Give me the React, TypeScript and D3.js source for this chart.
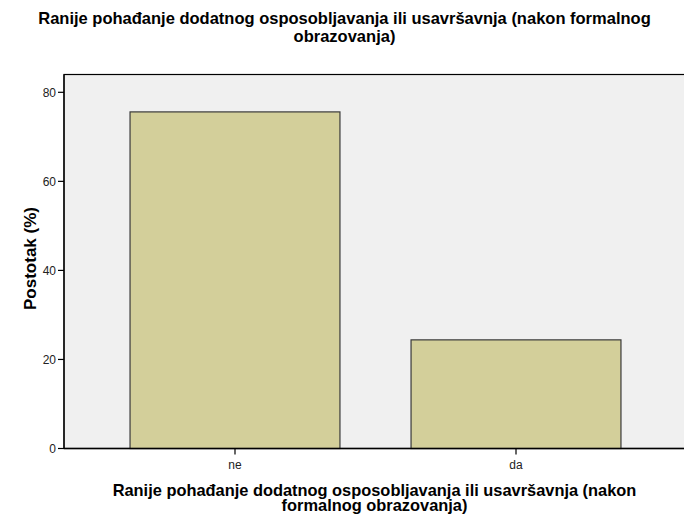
import * as d3 from "d3";

// answers and the share of respondents (%)
const categories = ["ne", "da"];
const percents = [75.6, 24.4];
const yTicks = [0, 20, 40, 60, 80];

const title = [
  "Ranije pohađanje dodatnog osposobljavanja ili usavršavnja (nakon formalnog",
  "obrazovanja)",
];
const xTitle = [
  "Ranije pohađanje dodatnog osposobljavanja ili usavršavnja (nakon",
  "formalnog obrazovanja)",
];
const yTitle = "Postotak (%)";

export default function App() {
  const width = 684, height = 515;
  const left = 64, right = 687, top = 74.5, bottom = 448.5;
  const font = "'Liberation Sans', Arial, sans-serif";

  const x = d3.scaleBand<string>()
    .domain(categories)
    .range([left, right])
    .paddingInner(0.253)
    .paddingOuter(0.235);

  const y = d3.scaleLinear().domain([0, 84]).range([bottom, top]);

  return (
    <svg width={width} height={height}
      style={{position: "absolute", left: 0, top: 0, background: "#fff"}}
      fontFamily={font}>
      {/* plot background */}
      <rect x={left} y={top} width={right - left} height={bottom - top}
        fill="#f0f0f0" stroke="#000" strokeWidth={1.2} />

      {/* bars */}
      {categories.map((c, i) => (
        <rect key={c} x={x(c)} y={y(percents[i])} width={x.bandwidth()}
          height={y(0) - y(percents[i])} fill="#d3cf9a" stroke="#3a3a3a" strokeWidth={1.2} />
      ))}

      {/* axes lines */}
      <line x1={left} x2={width} y1={bottom} y2={bottom} stroke="#000" strokeWidth={1.5} />
      <line x1={left} x2={left} y1={top} y2={bottom} stroke="#000" strokeWidth={1.2} />

      {/* y ticks */}
      {yTicks.map(t => (
        <g key={t}>
          <line x1={left - 6} x2={left} y1={y(t)} y2={y(t)} stroke="#000" strokeWidth={1.2} />
          <text x={left - 8} y={y(t)} dy="0.36em" textAnchor="end" fontSize={12} fill="#222">{t}</text>
        </g>
      ))}

      {/* x ticks */}
      {categories.map(c => {
        const cx = (x(c) as number) + x.bandwidth() / 2;
        return (
          <g key={c}>
            <line x1={cx} x2={cx} y1={bottom} y2={bottom + 6} stroke="#000" strokeWidth={1.2} />
            <text x={cx} y={bottom + 20} textAnchor="middle" fontSize={12} fill="#222">{c}</text>
          </g>
        );
      })}

      {/* titles */}
      <text textAnchor="middle" fontSize={16.5} fontWeight="bold">
        {title.map((t, i) => (
          <tspan key={t} x={344.5} y={24 + i * 18}>{t}</tspan>
        ))}
      </text>
      <text textAnchor="middle" fontSize={16.4} fontWeight="bold">
        {xTitle.map((t, i) => (
          <tspan key={t} x={374.5} y={495.5 + i * 15.5}>{t}</tspan>
        ))}
      </text>
      <text transform={`translate(36,${(207 + 310) / 2}) rotate(-90)`} textAnchor="middle"
        fontSize={17} fontWeight="bold">{yTitle}</text>
    </svg>
  );
}
